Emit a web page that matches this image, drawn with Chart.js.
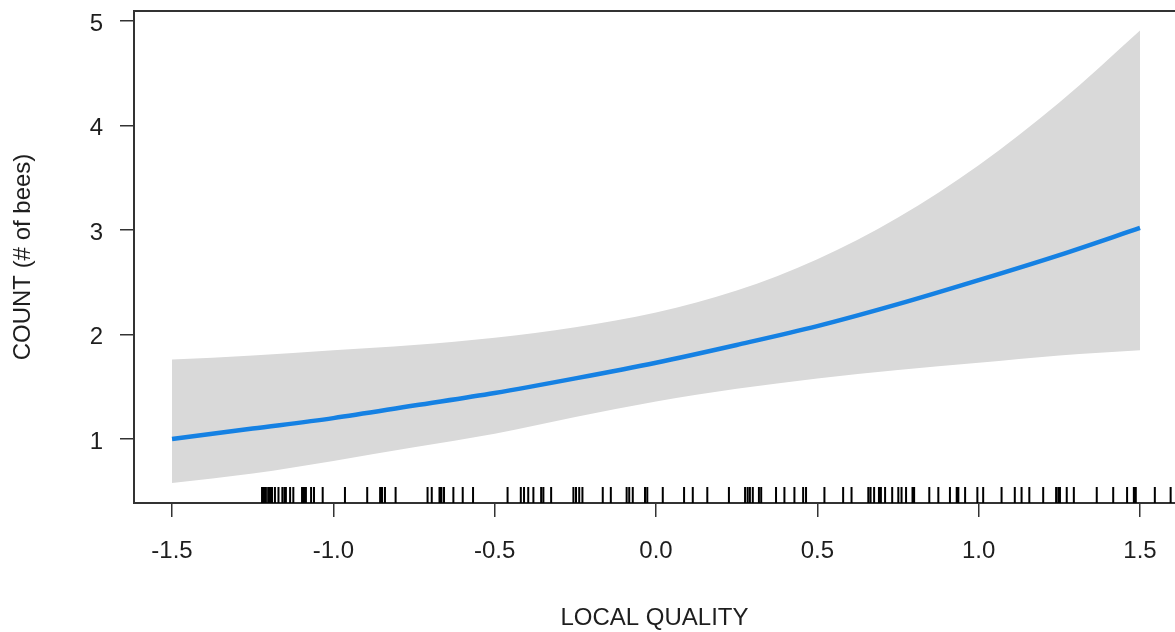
<!DOCTYPE html>
<html>
<head>
<meta charset="utf-8">
<script src="https://cdn.jsdelivr.net/npm/chart.js@4.4.1/dist/chart.umd.min.js"></script>
<style>
  html, body { margin: 0; padding: 0; background: #ffffff; overflow: hidden; }
  #wrap { width: 1175px; height: 632px; }
</style>
</head>
<body>
<div id="wrap"><canvas id="chart" width="1175" height="632"></canvas></div>
<script>
// Predictor grid (LOCAL QUALITY) and fitted bee count with its confidence band
const qualityGrid = [-1.5, -1.25, -1.0, -0.75, -0.5, -0.25, 0.0, 0.25, 0.5, 0.75, 1.0, 1.25, 1.5];
const fittedCount = [1.00, 1.10, 1.20, 1.32, 1.44, 1.58, 1.73, 1.90, 2.08, 2.29, 2.52, 2.76, 3.02];
const upperBound  = [1.76, 1.80, 1.85, 1.90, 1.97, 2.07, 2.21, 2.42, 2.72, 3.12, 3.62, 4.22, 4.91];
const lowerBound  = [0.58, 0.67, 0.79, 0.92, 1.05, 1.21, 1.36, 1.48, 1.58, 1.66, 1.73, 1.80, 1.85];

// Observed LOCAL QUALITY values shown as a rug along the x axis
const rugValues = [
  -1.221, -1.215, -1.209, -1.202, -1.196, -1.190, -1.181, -1.170, -1.158, -1.151,
  -1.147, -1.134, -1.124, -1.097, -1.091, -1.085, -1.069, -1.060, -1.033, -0.964,
  -0.895, -0.855, -0.849, -0.840, -0.807, -0.708, -0.695, -0.671, -0.665, -0.657,
  -0.628, -0.599, -0.567, -0.460, -0.419, -0.409, -0.396, -0.380, -0.356, -0.349,
  -0.325, -0.256, -0.248, -0.238, -0.228, -0.165, -0.140, -0.091, -0.083, -0.072,
  -0.034, -0.027, 0.021, 0.087, 0.114, 0.159, 0.226, 0.276, 0.284, 0.291,
  0.300, 0.319, 0.326, 0.372, 0.398, 0.429, 0.456, 0.465, 0.522, 0.580,
  0.606, 0.658, 0.665, 0.676, 0.691, 0.697, 0.710, 0.732, 0.751, 0.761,
  0.775, 0.795, 0.800, 0.847, 0.875, 0.911, 0.932, 0.937, 0.958, 0.996,
  1.014, 1.071, 1.112, 1.133, 1.157, 1.200, 1.240, 1.247, 1.252, 1.273,
  1.295, 1.366, 1.417, 1.460, 1.481, 1.487, 1.546, 1.595
];

// Axis tick positions and titles
const xTicks = [-1.5, -1.0, -0.5, 0.0, 0.5, 1.0, 1.5];
const yTicks = [1, 2, 3, 4, 5];
const xTitle = 'LOCAL QUALITY';
const yTitle = 'COUNT (# of bees)';

const toPoints = (ys) => qualityGrid.map((x, i) => ({ x: x, y: ys[i] }));

const AXIS_COLOR = '#333333';
const TEXT_COLOR = '#1e1e1e';

// Top edge of the plot box
const frameTop = {
  id: 'frameTop',
  afterDraw(chart) {
    const { ctx, chartArea } = chart;
    ctx.save();
    ctx.strokeStyle = AXIS_COLOR;
    ctx.lineWidth = 2;
    ctx.beginPath();
    ctx.moveTo(chartArea.left - 1, chartArea.top);
    ctx.lineTo(chartArea.right, chartArea.top);
    ctx.stroke();
    ctx.restore();
  }
};

// Rug of observed values, drawn up from the bottom of the plot box
const rug = {
  id: 'rug',
  afterDatasetsDraw(chart) {
    const { ctx, chartArea, scales } = chart;
    ctx.save();
    ctx.strokeStyle = '#000000';
    ctx.lineWidth = 2;
    ctx.beginPath();
    rugValues.forEach(v => {
      const px = scales.x.getPixelForValue(v);
      ctx.moveTo(px, chartArea.bottom);
      ctx.lineTo(px, chartArea.bottom - 16);
    });
    ctx.stroke();
    ctx.restore();
  }
};

new Chart(document.getElementById('chart'), {
  type: 'line',
  data: {
    datasets: [
      {
        label: 'upper',
        data: toPoints(upperBound),
        order: 1,
        fill: '+1',
        backgroundColor: '#d9d9d9',
        borderColor: 'rgba(0,0,0,0)',
        borderWidth: 0,
        pointRadius: 0,
        cubicInterpolationMode: 'monotone'
      },
      {
        label: 'lower',
        data: toPoints(lowerBound),
        order: 2,
        fill: false,
        borderColor: 'rgba(0,0,0,0)',
        borderWidth: 0,
        pointRadius: 0,
        cubicInterpolationMode: 'monotone'
      },
      {
        label: 'fit',
        data: toPoints(fittedCount),
        order: 0,
        fill: false,
        borderColor: '#1581e3',
        borderWidth: 4.5,
        pointRadius: 0,
        cubicInterpolationMode: 'monotone'
      }
    ]
  },
  options: {
    responsive: false,
    animation: false,
    events: [],
    layout: { padding: { top: 11, left: 0, right: 0, bottom: 0 } },
    plugins: { legend: { display: false }, tooltip: { enabled: false } },
    scales: {
      x: {
        type: 'linear',
        min: -1.6178,
        max: 1.6085,
        afterBuildTicks: (s) => { s.ticks = xTicks.map(v => ({ value: v })); },
        afterFit: (s) => { s.height = 129; s.paddingLeft = 0; s.paddingRight = 0; },
        grid: { drawOnChartArea: false, drawTicks: true, tickLength: 14, color: AXIS_COLOR, lineWidth: 1.5 },
        border: { display: true, color: AXIS_COLOR, width: 2 },
        ticks: {
          padding: 20,
          autoSkip: false,
          maxRotation: 0,
          color: TEXT_COLOR,
          font: { family: 'Liberation Sans', size: 24 },
          callback: (v) => Number(v).toFixed(1)
        },
        title: {
          display: true,
          text: xTitle,
          color: TEXT_COLOR,
          font: { family: 'Liberation Sans', size: 24 },
          padding: { top: 0, bottom: -1 }
        }
      },
      y: {
        type: 'linear',
        min: 0.3876,
        max: 5.0957,
        afterBuildTicks: (s) => { s.ticks = yTicks.map(v => ({ value: v })); },
        afterFit: (s) => { s.width = 134; s.paddingTop = 0; s.paddingBottom = 0; },
        grid: { drawOnChartArea: false, drawTicks: true, tickLength: 14, color: AXIS_COLOR, lineWidth: 1.5 },
        border: { display: true, color: AXIS_COLOR, width: 2 },
        ticks: {
          padding: 17,
          labelOffset: 3,
          color: TEXT_COLOR,
          font: { family: 'Liberation Sans', size: 24 },
          callback: (v) => String(v)
        },
        title: {
          display: true,
          text: yTitle,
          color: TEXT_COLOR,
          font: { family: 'Liberation Sans', size: 24 },
          padding: { top: 9, bottom: 0 }
        }
      }
    }
  },
  plugins: [frameTop, rug]
});
</script>
</body>
</html>
